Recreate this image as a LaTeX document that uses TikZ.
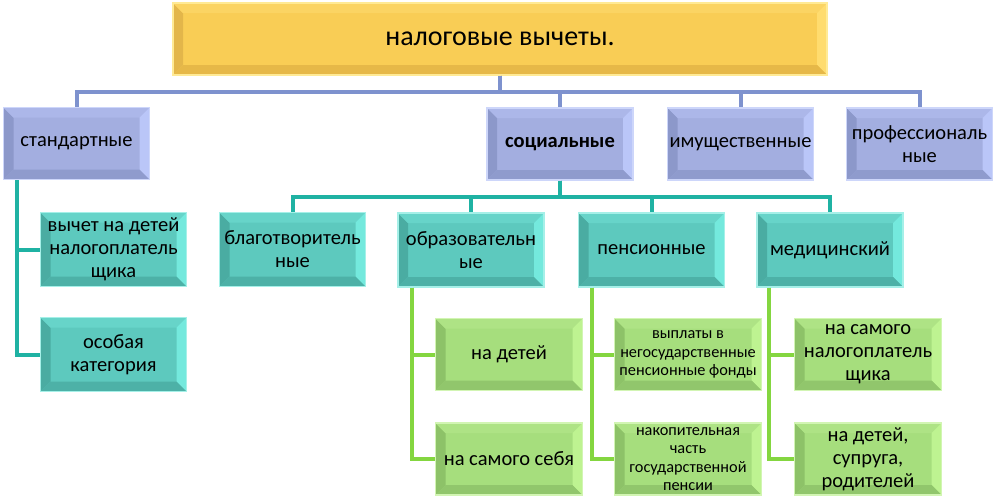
\documentclass[tikz,border=0pt]{standalone}
\usepackage{fontspec}
\setmainfont{Carlito}
\definecolor{yface}{HTML}{F9CD55}
\definecolor{yleft}{HTML}{E3B64A}
\definecolor{ytop}{HTML}{FBD463}
\definecolor{yright}{HTML}{FFDC6E}
\definecolor{ybot}{HTML}{E6B848}
\definecolor{yedge}{HTML}{FFEA95}
\definecolor{bface}{HTML}{A3AEE0}
\definecolor{bleft}{HTML}{8C98CA}
\definecolor{btop}{HTML}{ACB7E9}
\definecolor{bright}{HTML}{BAC6F8}
\definecolor{bbot}{HTML}{8F9BCD}
\definecolor{bedge}{HTML}{CDD6FA}
\definecolor{tface}{HTML}{5DC9BE}
\definecolor{tleft}{HTML}{4AACA2}
\definecolor{ttop}{HTML}{67D4C9}
\definecolor{tright}{HTML}{74E9DD}
\definecolor{tbot}{HTML}{4DB1A7}
\definecolor{tedge}{HTML}{A5F0E8}
\definecolor{gface}{HTML}{A6DE7D}
\definecolor{gleft}{HTML}{8DC268}
\definecolor{gtop}{HTML}{AEE385}
\definecolor{gright}{HTML}{BEF391}
\definecolor{gbot}{HTML}{91C66C}
\definecolor{gedge}{HTML}{D2F5B3}
\definecolor{lblue}{HTML}{7E92CE}
\definecolor{lteal}{HTML}{1FB2A3}
\definecolor{lgreen}{HTML}{84D640}
\tikzset{
  bev/.style n args={6}{fill=#1, draw=#6, line width=1.3pt, inner sep=0pt,
    align=center, text=black,
    path picture={
      \coordinate (NW) at (path picture bounding box.north west);
      \coordinate (NE) at (path picture bounding box.north east);
      \coordinate (SW) at (path picture bounding box.south west);
      \coordinate (SE) at (path picture bounding box.south east);
      \fill[#2] (NW) -- (SW) -- ([shift={(10pt,10pt)}]SW) -- ([shift={(10pt,-10pt)}]NW) -- cycle;
      \fill[#3] (NW) -- (NE) -- ([shift={(-10pt,-10pt)}]NE) -- ([shift={(10pt,-10pt)}]NW) -- cycle;
      \fill[#4] (NE) -- (SE) -- ([shift={(-10pt,10pt)}]SE) -- ([shift={(-10pt,-10pt)}]NE) -- cycle;
      \fill[#5] (SW) -- (SE) -- ([shift={(-10pt,10pt)}]SE) -- ([shift={(10pt,10pt)}]SW) -- cycle;
    }},
  ybox/.style={bev={yface}{yleft}{ytop}{yright}{ybot}{yedge}},
  bbox/.style={bev={bface}{bleft}{btop}{bright}{bbot}{bedge}, minimum width=146, minimum height=72,
    font=\fontsize{20.5}{23}\selectfont},
  tbox/.style={bev={tface}{tleft}{ttop}{tright}{tbot}{tedge}, minimum width=146, minimum height=74,
    font=\fontsize{20.5}{23}\selectfont},
  gbox/.style={bev={gface}{gleft}{gtop}{gright}{gbot}{gedge}, minimum width=147, minimum height=72,
    font=\fontsize{20.5}{23}\selectfont},
  small/.style={font=\fontsize{16.3}{18.5}\selectfont},
  cb/.style={draw=lblue, line width=4pt},
  ct/.style={draw=lteal, line width=4pt},
  cg/.style={draw=lgreen, line width=4pt},
}
\begin{document}
\begin{tikzpicture}[x=1pt,y=-1pt]
\useasboundingbox (0,0) rectangle (998,499);
\coordinate (bar) at (0,92);
\coordinate (bar2) at (0,197);
% nodes
\node[ybox, minimum width=654, minimum height=72, font=\fontsize{28}{30}\selectfont] (top) at (500,39) {налоговые вычеты.};
\node[bbox] (std) at (76.5,143.5) {стандартные};
\node[bbox, font=\fontsize{20.5}{23}\selectfont\bfseries] (soc) at (560,144) {социальные};
\node[bbox] (imu) at (740.5,144) {имущественные};
\node[bbox] (prof) at (919.5,144) {профессиональ\\ные};
\node[tbox] (blag) at (292.5,249.5) {благотворитель\\ные};
\node[tbox] (obr) at (471,250) {образовательн\\ые};
\node[tbox] (pen) at (651.5,250) {пенсионные};
\node[tbox] (med) at (830,250) {медицинский};
\node[tbox] (vych) at (113.5,249.5) {вычет на детей\\налогоплатель\\щика};
\node[tbox] (osob) at (113.5,354.5) {особая\\категория};
\node[gbox] (od1) at (509,354.5) {на детей};
\node[gbox] (od2) at (509,459) {на самого себя};
\node[gbox, small] (pn1) at (688,354.5) {выплаты в\\негосударственные\\пенсионные фонды};
\node[gbox, small] (pn2) at (688,459) {накопительная\\часть\\государственной\\пенсии};
\node[gbox] (md1) at (868,354.5) {на самого\\налогоплатель\\щика};
\node[gbox] (md2) at (868,459) {на детей,\\супруга,\\родителей};
% connectors
\draw[cb] (top.south) -- (top.south |- bar) -| (std.north);
\draw[cb] (top.south) -- (top.south |- bar) -| (soc.north);
\draw[cb] (top.south) -- (top.south |- bar) -| (imu.north);
\draw[cb] (top.south) -- (top.south |- bar) -| (prof.north);
\draw[ct] (soc.south) -- (soc.south |- bar2) -| (blag.north);
\draw[ct] (soc.south) -- (soc.south |- bar2) -| (obr.north);
\draw[ct] (soc.south) -- (soc.south |- bar2) -| (pen.north);
\draw[ct] (soc.south) -- (soc.south |- bar2) -| (med.north);
\coordinate (stdL) at ([xshift=14pt]std.south west);
\draw[ct] (stdL) |- (vych.west);
\draw[ct] (stdL) |- (osob.west);
\coordinate (obrL) at ([xshift=15pt]obr.south west);
\draw[cg] (obrL) |- (od1.west);
\draw[cg] (obrL) |- (od2.west);
\coordinate (penL) at ([xshift=14pt]pen.south west);
\draw[cg] (penL) |- (pn1.west);
\draw[cg] (penL) |- (pn2.west);
\coordinate (medL) at ([xshift=13pt]med.south west);
\draw[cg] (medL) |- (md1.west);
\draw[cg] (medL) |- (md2.west);
\end{tikzpicture}
\end{document}
